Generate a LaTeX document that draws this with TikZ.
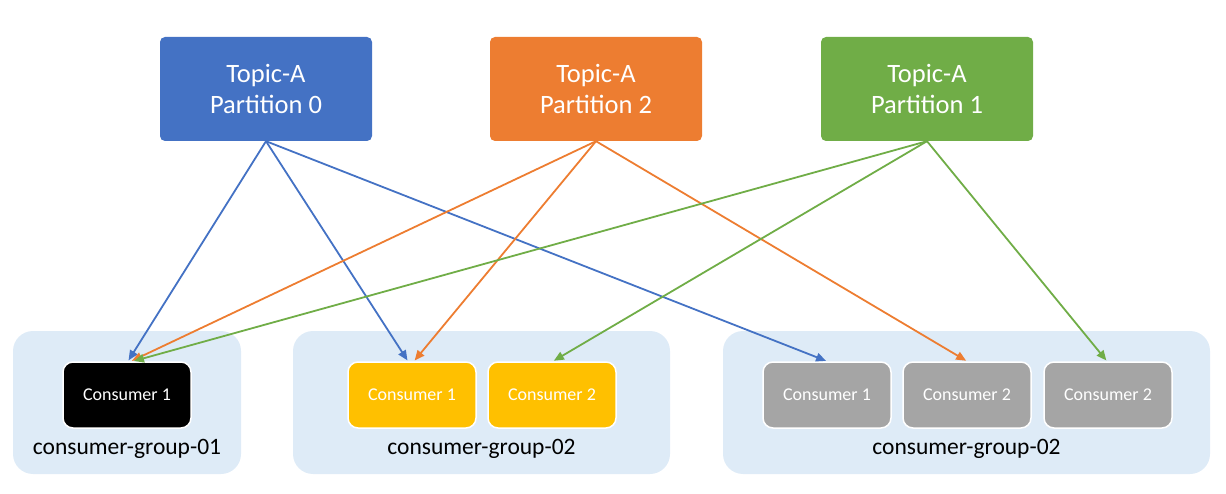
\documentclass[tikz,border=0pt]{standalone}
\usepackage{fontspec}
\setmainfont{Carlito}
\usetikzlibrary{arrows.meta}
\definecolor{cblue}{HTML}{4472C4}
\definecolor{corange}{HTML}{ED7D31}
\definecolor{cgreen}{HTML}{70AD47}
\definecolor{cbg}{HTML}{DEEBF7}
\definecolor{cyellow}{HTML}{FFC000}
\definecolor{cgrey}{HTML}{A5A5A5}
\tikzset{
  topicbox/.style={rounded corners=5pt, minimum width=212pt, minimum height=104pt, text=white, align=center, font=\fontsize{26.5}{31}\selectfont, inner sep=0pt},
  groupbox/.style={fill=cbg, rounded corners=20pt, inner sep=0pt},
  consbox/.style={rounded corners=10pt, draw=white, line width=1.5pt, minimum width=128pt, minimum height=66pt, text=white, font=\fontsize{18}{20}\selectfont, inner sep=0pt},
  grouplabel/.style={font=\fontsize{23.5}{26}\selectfont, text=black, inner sep=0pt},
  conn/.style={line width=1.8pt, -{Triangle[length=10pt,width=8.5pt]}, shorten >=1pt},
}
\begin{document}
\begin{tikzpicture}[x=1pt,y=-1pt]
\useasboundingbox (0,0) rectangle (1226,494);
% groups
\node[groupbox, minimum width=228pt, minimum height=143pt] (g1) at (127,402.5) {};
\node[groupbox, minimum width=377pt, minimum height=143pt] (g2) at (481.5,402.5) {};
\node[groupbox, minimum width=487pt, minimum height=143pt] (g3) at (966.5,402.5) {};
\node[grouplabel] (l1) at (127,449) {consumer-group-01};
\node[grouplabel] (l2) at (481.5,449) {consumer-group-02};
\node[grouplabel] (l3) at (966.5,449) {consumer-group-02};
% topics
\node[topicbox, fill=cblue] (t0) at (266,89) {Topic-A\\Partition 0};
\node[topicbox, fill=corange] (t2) at (596,89) {Topic-A\\Partition 2};
\node[topicbox, fill=cgreen] (t1) at (927,89) {Topic-A\\Partition 1};
% consumers
\node[consbox, fill=black] (c11) at (127,395) {Consumer 1};
\node[consbox, fill=cyellow] (c21) at (412,395) {Consumer 1};
\node[consbox, fill=cyellow] (c22) at (552,395) {Consumer 2};
\node[consbox, fill=cgrey] (c31) at (827,395) {Consumer 1};
\node[consbox, fill=cgrey] (c32) at (967,395) {Consumer 2};
\node[consbox, fill=cgrey] (c33) at (1108,395) {Consumer 2};
% connectors
\draw[conn, draw=cblue] (t0.south) -- ([xshift=1pt]c11.north);
\draw[conn, draw=cblue] (t0.south) -- ([xshift=-4pt]c21.north);
\draw[conn, draw=cblue] (t0.south) -- (c31.north);
\draw[conn, draw=corange] (t2.south) -- ([xshift=4pt]c11.north);
\draw[conn, draw=corange] (t2.south) -- ([xshift=2pt]c21.north);
\draw[conn, draw=corange] (t2.south) -- (c32.north);
\draw[conn, draw=cgreen] (t1.south) -- ([xshift=6pt]c11.north);
\draw[conn, draw=cgreen] (t1.south) -- ([xshift=1pt]c22.north);
\draw[conn, draw=cgreen] (t1.south) -- ([xshift=-1pt]c33.north);
\end{tikzpicture}
\end{document}
